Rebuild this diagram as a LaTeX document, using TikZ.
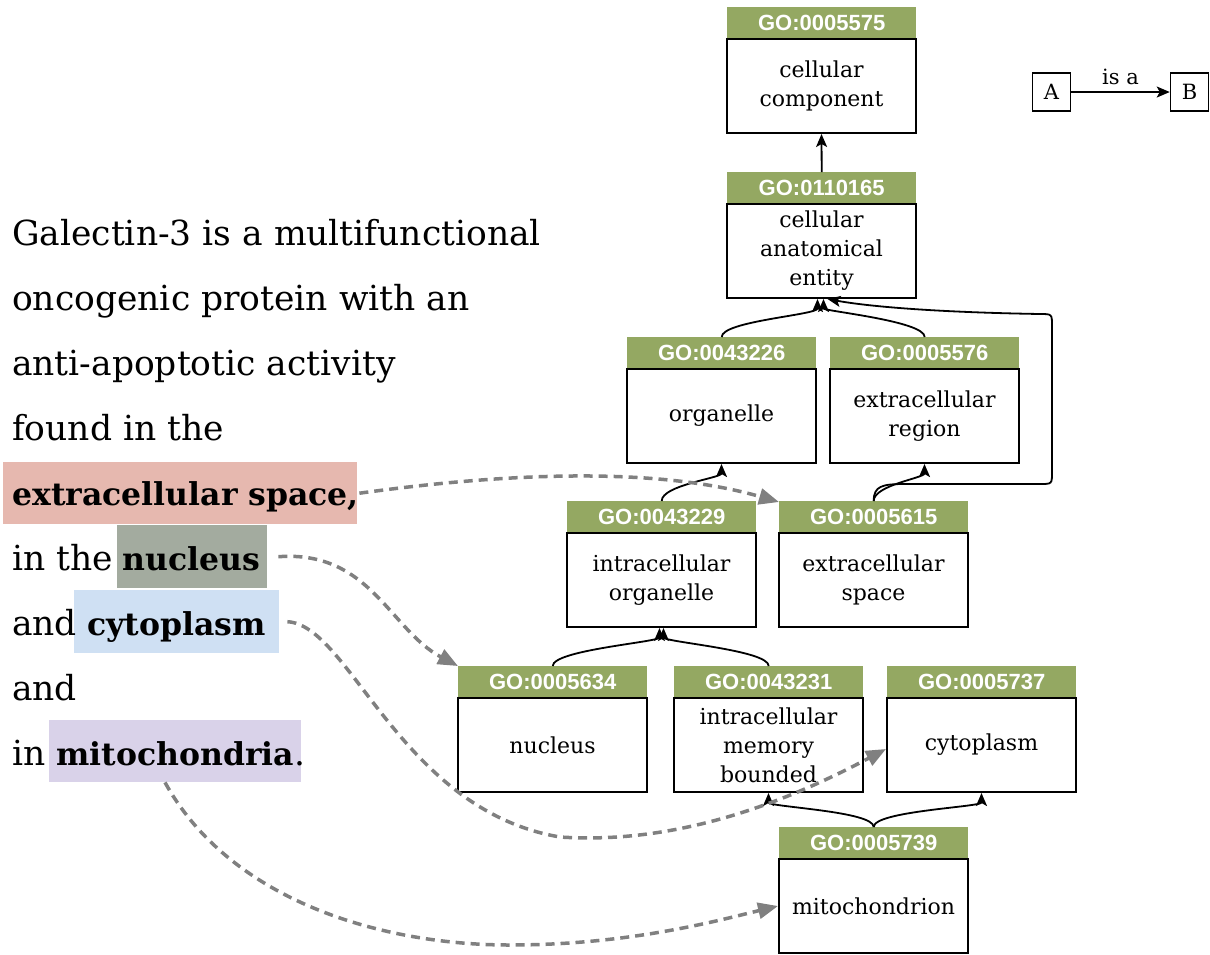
\documentclass[tikz,border=0pt]{standalone}
\usepackage{fontspec}
\setmainfont{DejaVu Serif}
\newfontfamily\hdfont{Liberation Sans}
\usetikzlibrary{arrows.meta}
\definecolor{gogreen}{RGB}{148,168,98}
\definecolor{hlred}{RGB}{230,184,175}
\definecolor{hlgray}{RGB}{163,171,159}
\definecolor{hlblue}{RGB}{207,224,243}
\definecolor{hlpurple}{RGB}{217,210,233}
\definecolor{dgray}{RGB}{128,128,128}
\newcommand{\goterm}[5]{%
  \node[termbody] (#1) at ({#2+94.5},{#3+31}) {#5};
  \node[termhdr] (#1h) at (#2,#3) {GO:#4};
}
\begin{document}
\begin{tikzpicture}[x=1pt,y=-1pt,
  termhdr/.style={fill=gogreen, text=white, font=\hdfont\bfseries\fontsize{22}{26}\selectfont,
    minimum width=189pt, minimum height=31pt, inner sep=0pt, anchor=north west},
  termbody/.style={draw=black, line width=2pt, minimum width=189pt, minimum height=94pt,
    inner sep=0pt, anchor=north, align=center, font=\fontsize{22}{29}\selectfont},
  isa/.style={-{Stealth[length=13pt,width=11pt,inset=3pt]}, line width=1.8pt},
  gar/.style={draw=dgray, line width=3.5pt, dash pattern=on 9pt off 6pt,
    -{Triangle[length=20pt,width=16pt]}},
  txt/.style={anchor=base west, inner sep=0pt, font=\fontsize{34.5}{40}\selectfont},
  btxt/.style={anchor=base west, inner sep=0pt, font=\bfseries\fontsize{31.5}{40}\selectfont},
  hl/.style={anchor=north west, inner sep=0pt},
  lgbox/.style={draw=black, line width=1.5pt, minimum size=38pt, inner sep=0pt,
    font=\fontsize{21}{24}\selectfont}
]
\useasboundingbox (0,0) rectangle (1210,954);

% highlights
\node[hl, fill=hlred, minimum width=354pt, minimum height=62pt] (hx) at (3,462) {};
\node[hl, fill=hlgray, minimum width=150pt, minimum height=63pt] (hn) at (117,525) {};
\node[hl, fill=hlblue, minimum width=205pt, minimum height=63pt] (hc) at (74,590) {};
\node[hl, fill=hlpurple, minimum width=252pt, minimum height=62pt] (hm) at (49,720) {};

% text
\node[txt] (l1) at (12,245) {Galectin-3 is a multifunctional};
\node[txt] (l2) at (12,310) {oncogenic protein with an};
\node[txt] (l3) at (12,375) {anti-apoptotic activity};
\node[txt] (l4) at (12,440) {found in the};
\node[btxt] (l5) at (12,505) {extracellular space,};
\node[txt] (l6) at (12,570) {in the};
\node[btxt] (w6) at (122,570) {nucleus};
\node[txt] (l7) at (12,635) {and};
\node[btxt] (w7) at (87,635) {cytoplasm};
\node[txt] (l8) at (12,700) {and};
\node[txt] (l9) at (12,765) {in};
\node[btxt] (w9) at (56,765) {mitochondria};
\node[txt] (p9) at (w9.base east) {.};

% terms
\goterm{t5575}{727}{7}{0005575}{cellular\\component}
\goterm{t110165}{727}{172}{0110165}{cellular\\anatomical\\entity}
\goterm{t43226}{627}{337}{0043226}{organelle}
\goterm{t5576}{830}{337}{0005576}{extracellular\\region}
\goterm{t43229}{567}{501}{0043229}{intracellular\\organelle}
\goterm{t5615}{779}{501}{0005615}{extracellular\\space}
\goterm{t5634}{458}{666}{0005634}{nucleus}
\goterm{t43231}{674}{666}{0043231}{intracellular\\memory\\bounded}
\goterm{t5737}{887}{666}{0005737}{cytoplasm}
\goterm{t5739}{779}{827}{0005739}{mitochondrion}

% is-a edges
\draw[isa] (t110165h.north) -- (t5575.south);
\draw[isa] (t43226h.north) .. controls +(0,-16) and +(0,16) .. ([xshift=-4pt]t110165.south);
\draw[isa] (t5576h.north) .. controls +(0,-16) and +(0,12) .. ([xshift=2pt]t110165.south);
\draw[isa] (t5615h.north) .. controls +(0,-15) and (882,484) .. (905,484) -- (1040,484)
  .. controls (1052,484) .. (1052,472) -- (1052,326) .. controls (1052,314) .. (1040,314)
  .. controls (920,312) and (860,305) .. ([xshift=6pt]t110165.south);
\draw[isa] (t43229h.north) .. controls +(0,-16) and +(0,14) .. (t43226.south);
\draw[isa] (t5615h.north) .. controls +(0,-16) and +(0,14) .. (t5576.south);
\draw[isa] (t5634h.north) .. controls +(0,-16) and +(0,14) .. ([xshift=-2pt]t43229.south);
\draw[isa] (t43231h.north) .. controls +(0,-16) and +(0,14) .. ([xshift=2pt]t43229.south);
\draw[isa] (t5739h.north) .. controls +(0,-16) and +(0,14) .. (t43231.south);
\draw[isa] (t5739h.north) .. controls +(0,-16) and +(0,14) .. (t5737.south);

% legend
\node[lgbox] (la) at (1051.5,92) {A};
\node[lgbox] (lb) at (1189.5,92) {B};
\draw[isa] (la) -- (lb) node[midway, above=5pt, font=\fontsize{21}{24}\selectfont, inner sep=1pt] (isalbl) {is a};

% annotation links
\draw[gar] ([xshift=2pt]hx.east) .. controls (470,478) and (640,462) .. ([yshift=-1pt]t5615h.north west);
\draw[gar] ([xshift=11pt]hn.east) .. controls (370,550) and (390,630) .. (t5634h.north west);
\draw[gar] ([xshift=8pt]hc.east) .. controls (350,625) and (400,810) .. (560,837)
  .. controls (680,845) and (790,800) .. ([yshift=-4pt]t5737.west);
\draw[gar] ([xshift=116pt]hm.south west) .. controls (230,900) and (380,945) .. (510,945)
  .. controls (630,945) and (720,920) .. (t5739.west);
\end{tikzpicture}
\end{document}
